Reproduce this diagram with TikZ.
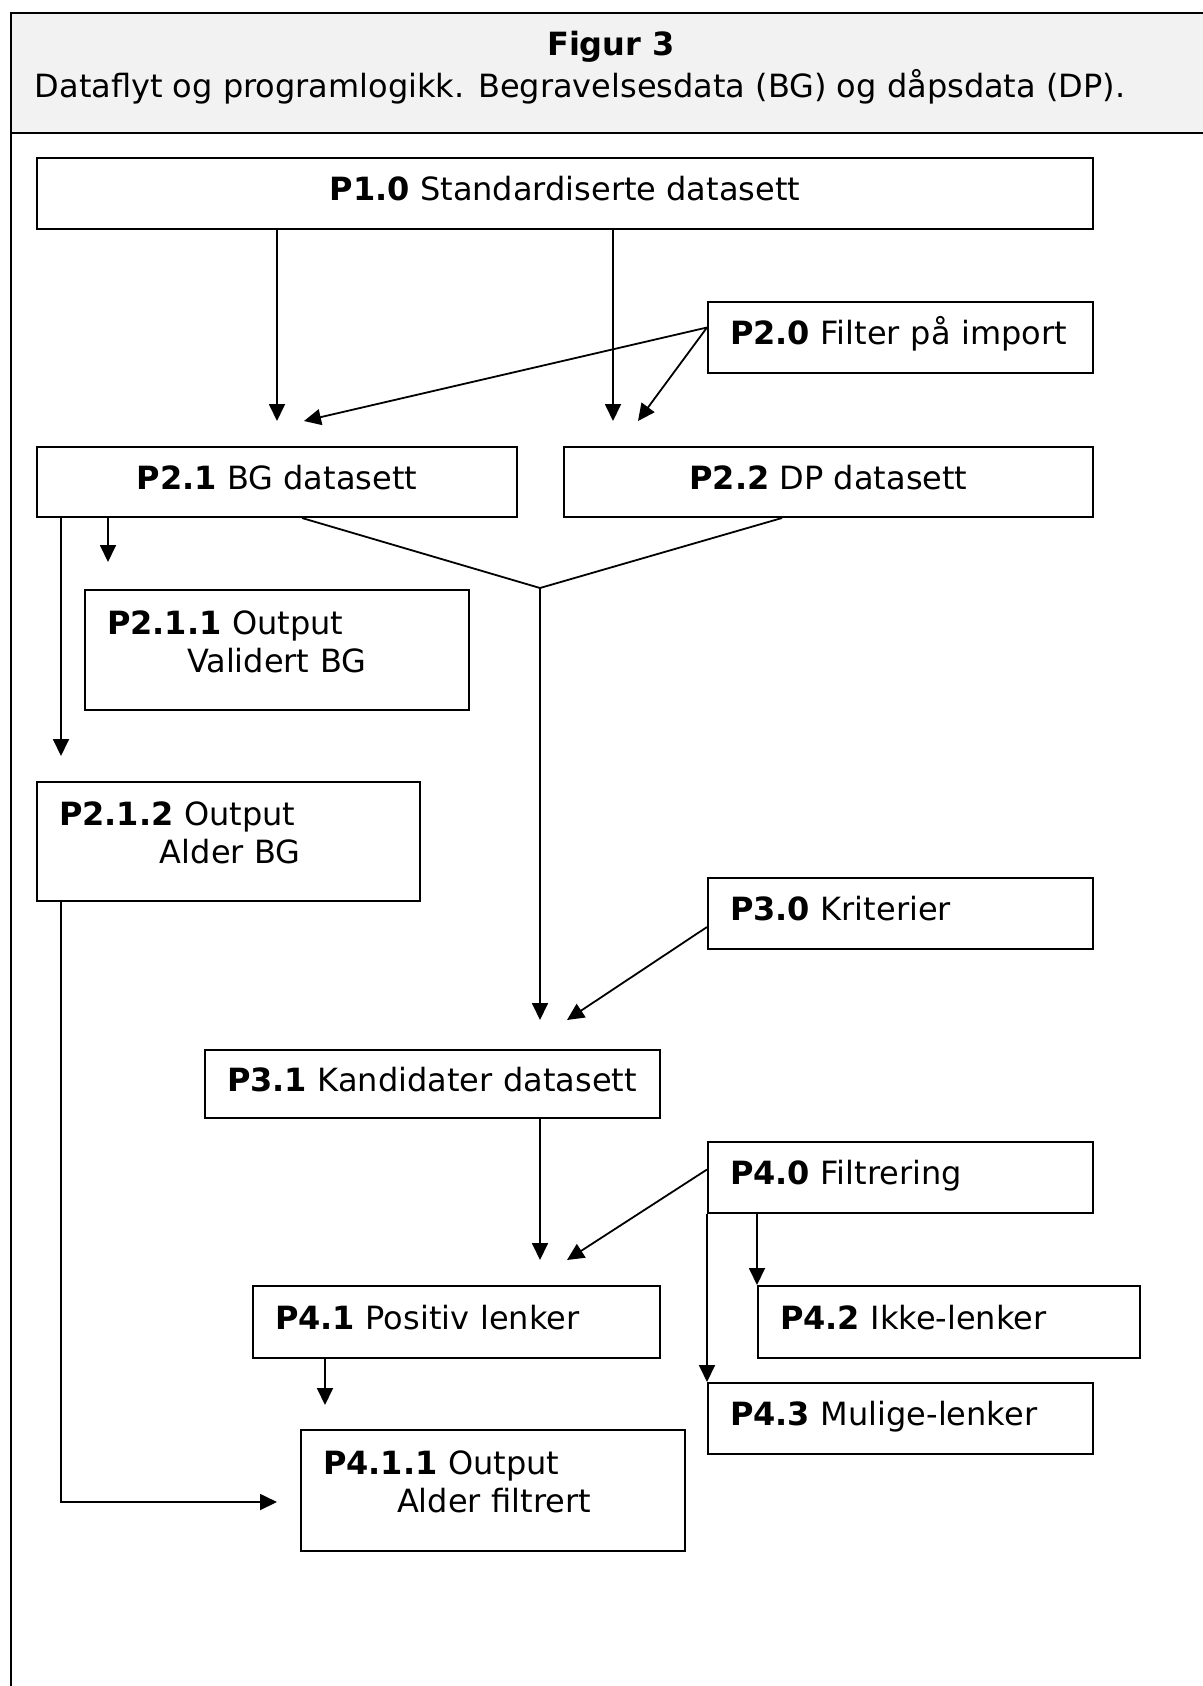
\documentclass[tikz,border=0pt]{standalone}
\usepackage{fontspec}
\setmainfont{DejaVu Sans}
\usetikzlibrary{positioning, arrows.meta}

\begin{document}
\begin{tikzpicture}[
    x=0.5pt, y=-0.5pt,
    >={Triangle[length=8.5pt, width=8pt]},
    every node/.style={font=\fontsize{16}{19}\selectfont},
    box/.style={draw, line width=1pt, inner xsep=11pt, inner ysep=0pt, text height=12pt, text depth=5pt, minimum height=35.5pt},
    lbox/.style={box, align=left},
    cbox/.style={box, align=center},
    outbox/.style={draw, line width=1pt, inner xsep=11pt, inner ysep=0pt, align=left, text depth=27.5pt, minimum height=60pt},
    flow/.style={->, line width=0.9pt},
    link/.style={line width=0.9pt}
]
\useasboundingbox (0,0) rectangle (1203,1686);

% ================= Frame =================

\fill[black!5] (11,13) rectangle (1203,133);
\draw[line width=1pt] (1203,13) -- (11,13) -- (11,1686);
\draw[line width=1pt] (11,133) -- (1203,133);

\node[font=\fontsize{16}{19}\selectfont\bfseries] (title) at (611,47) {Figur 3};
\node (subtitle) at (580,87) {Dataflyt og programlogikk. Begravelsesdata (BG) og dåpsdata (DP).};

% ================= Nodes =================

% Import
\node[cbox, minimum width=528pt] (p10) at (565,193.5) {\textbf{P1.0} Standardiserte datasett};
\node[lbox, text width=170.5pt] (p20) at (900.5,337.5) {\textbf{P2.0}~Filter~på~import};

% Datasets
\node[cbox, minimum width=240pt, minimum height=35pt] (p21) at (277,482) {\textbf{P2.1} BG datasett};
\node[cbox, minimum width=264.5pt, minimum height=35pt] (p22) at (828.5,482) {\textbf{P2.2} DP datasett};

% Output from BG
\node[outbox, text width=170pt] (p211) at (277,650) {\textbf{P2.1.1} Output\\\hspace*{40pt}Validert BG};
\node[outbox, text width=169.5pt, minimum height=59.5pt] (p212) at (228.5,841.5) {\textbf{P2.1.2} Output\\\hspace*{50.5pt}Alder BG};

% Candidates
\node[lbox, text width=170.5pt] (p30) at (900.5,913.5) {\textbf{P3.0} Kriterier};
\node[lbox, text width=205.5pt, minimum height=34pt] (p31) at (432.5,1084) {\textbf{P3.1}~Kandidater~datasett};

% Filtering
\node[lbox, text width=170.5pt] (p40) at (900.5,1177.5) {\textbf{P4.0} Filtrering};
\node[lbox, text width=181.5pt, minimum height=36pt] (p41) at (456.5,1322) {\textbf{P4.1} Positiv lenker};
\node[lbox, text width=169pt, minimum height=36pt] (p42) at (949,1322) {\textbf{P4.2} Ikke-lenker};
\node[lbox, text width=170.5pt] (p43) at (900.5,1418.5) {\textbf{P4.3} Mulige-lenker};
\node[outbox, text width=170pt, minimum height=60.5pt] (p411) at (493,1490.5) {\textbf{P4.1.1} Output\\\hspace*{37pt}Alder filtrert};

% Free arrow ends
\coordinate (t21a) at (277,421);
\coordinate (t21b) at (304,421);
\coordinate (t22a) at (613,421);
\coordinate (t22b) at (638,421);
\coordinate (join) at (540,588);
\coordinate (t31a) at (540,1020);
\coordinate (t31b) at (567,1020);
\coordinate (t41a) at (540,1260);
\coordinate (t41b) at (567,1260);
\coordinate (t211) at (108,562);
\coordinate (t212) at (61,756);
\coordinate (bend) at (61,1502);
\coordinate (t411a) at (325,1405);
\coordinate (t411b) at (277,1502);

% ================= Edges =================

\draw[flow] (p10.south -| t21a) -- (t21a);
\draw[flow] (p10.south -| t22a) -- (t22a);
\draw[flow] ([yshift=5pt]p20.west) -- (t21b);
\draw[flow] ([yshift=5pt]p20.west) -- (t22b);

\draw[flow] (p21.south -| t211) -- (t211);
\draw[flow] (p21.south -| t212) -- (t212);
\draw[flow] (p212.south -| bend) -- (bend) -- (t411b);

\draw[link] ([xshift=12.5pt]p21.south) -- (join) -- ([xshift=-23.25pt]p22.south);
\draw[flow] (join) -- (t31a);
\draw[flow] ([yshift=-6.75pt]p30.west) -- (t31b);

\draw[flow] (p31.south -| t41a) -- (t41a);
\draw[flow] ([yshift=4pt]p40.west) -- (t41b);
\draw[flow] (p40.south west) -- (p43.north west);
\draw[flow] (p40.south -| p42.north west) -- (p42.north west);
\draw[flow] (p41.south -| t411a) -- (t411a);

\end{tikzpicture}
\end{document}
